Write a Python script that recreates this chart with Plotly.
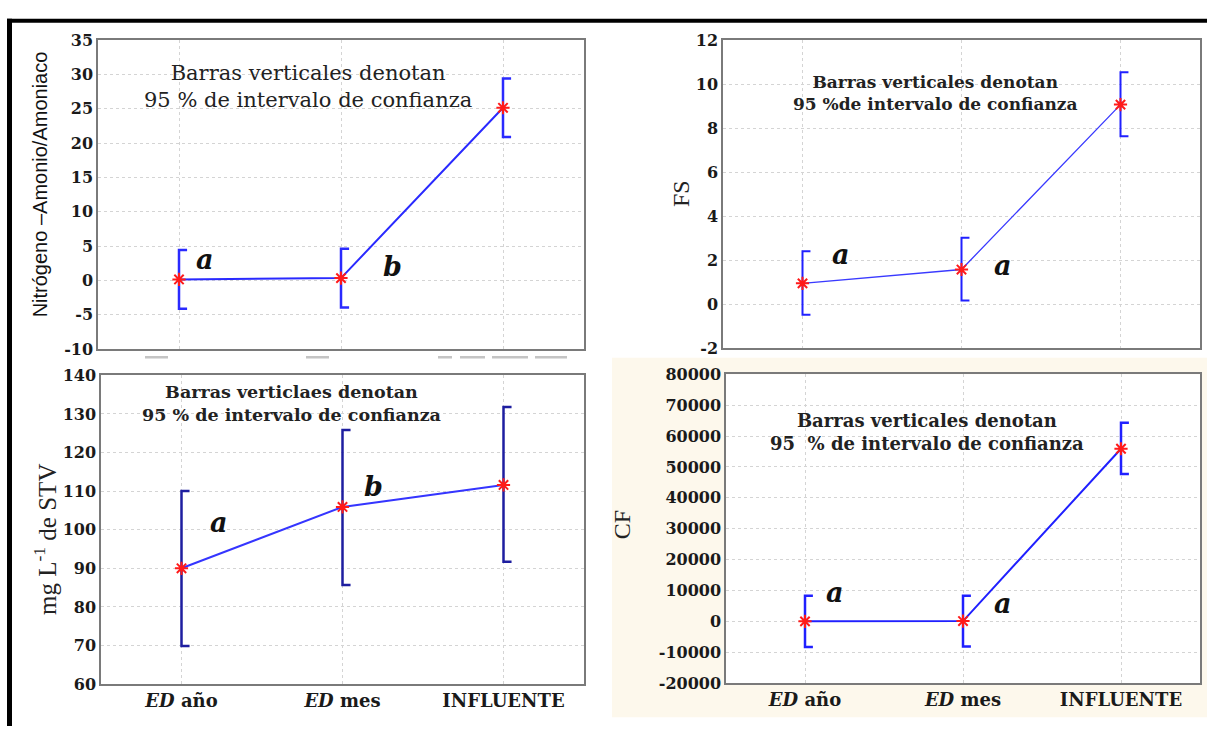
import plotly.graph_objects as go

W, H = 1207, 736

categories = ["ED año", "ED mes", "INFLUENTE"]
tick_text = ["<b><i>ED</i> año</b>", "<b><i>ED</i> mes</b>", "<b>INFLUENTE</b>"]

# Panel 1: Nitrógeno-Amonio/Amoniaco
nit_mean = [0.14, 0.33, 25.15]
nit_low = [-4.15, -3.95, 20.9]
nit_high = [4.43, 4.6, 29.4]
nit_letters = ["a", "b"]

# Panel 2: FS
fs_mean = [0.94, 1.57, 9.07]
fs_low = [-0.49, 0.16, 7.63]
fs_high = [2.4, 3.01, 10.54]
fs_letters = ["a", "a"]

# Panel 3: mg/L de STV
stv_mean = [90.0, 105.9, 111.6]
stv_low = [69.9, 85.7, 91.7]
stv_high = [110.0, 125.8, 131.8]
stv_letters = ["a", "b"]

# Panel 4: CF
cf_mean = [0, 100, 55900]
cf_low = [-8300, -8100, 47700]
cf_high = [8300, 8300, 64300]
cf_letters = ["a", "a"]


def px(x):
    return x / W


def py(y):
    return 1 - y / H


SERIF = "DejaVu Serif"

panels = [
    dict(mean=nit_mean, low=nit_low, high=nit_high, box=(98, 584, 32, 349),
         yr=(-10, 35), dt=5, line_w=2.0, line_c="#2a2aff", err_c="#2a2aff", err_w=2.5,
         xlabels=False),
    dict(mean=fs_mean, low=fs_low, high=fs_high, box=(723, 1200, 32, 348),
         yr=(-2, 12), dt=2, line_w=1.3, line_c="#3a3aff", err_c="#2020ff", err_w=2.0,
         xlabels=False),
    dict(mean=stv_mean, low=stv_low, high=stv_high, box=(101, 584, 376, 693),
         yr=(60, 140), dt=10, line_w=2.0, line_c="#3535ff", err_c="#1e1ea0", err_w=2.5,
         xlabels=True),
    dict(mean=cf_mean, low=cf_low, high=cf_high, box=(726, 1200, 375, 692),
         yr=(-20000, 80000), dt=10000, line_w=2.0, line_c="#2020ff", err_c="#2020ff", err_w=2.5,
         xlabels=True),
]

fig = go.Figure()
xi = list(range(len(categories)))
cap = 0.05

for k, p in enumerate(panels, start=1):
    xa = "x" if k == 1 else f"x{k}"
    ya = "y" if k == 1 else f"y{k}"
    # bracket-shaped error bars
    bx, by = [], []
    for i, (lo, hi) in enumerate(zip(p["low"], p["high"])):
        bx += [i + cap, i, i, i + cap, None]
        by += [hi, hi, lo, lo, None]
    fig.add_trace(go.Scatter(x=bx, y=by, mode="lines", xaxis=xa, yaxis=ya,
                             line=dict(color=p["err_c"], width=p["err_w"]),
                             showlegend=False, hoverinfo="skip"))
    fig.add_trace(go.Scatter(x=xi, y=p["mean"], mode="lines", xaxis=xa, yaxis=ya,
                             line=dict(color=p["line_c"], width=p["line_w"]),
                             showlegend=False))
    fig.add_trace(go.Scatter(x=xi, y=p["mean"], mode="markers", xaxis=xa, yaxis=ya,
                             marker=dict(symbol="asterisk-open", size=11, color="#ff1a1a",
                                         line=dict(color="#ff1a1a", width=2)),
                             showlegend=False))
    x0, x1, y0, y1 = p["box"]
    lo_r, hi_r = p["yr"]
    n = int(round((hi_r - lo_r) / p["dt"]))
    yvals = [lo_r + j * p["dt"] for j in range(n + 1)]
    ytext = [f"<b>{v:d}</b>" for v in yvals]
    axkey = "xaxis" if k == 1 else f"xaxis{k}"
    aykey = "yaxis" if k == 1 else f"yaxis{k}"
    fig.layout[axkey] = dict(
        domain=[px(x0), px(x1)], anchor=ya, range=[-0.5, 2.5],
        tickvals=xi, ticktext=tick_text, showticklabels=p["xlabels"],
        tickfont=dict(family=SERIF, size=18, color="#1a1a1a"),
        showgrid=True, gridcolor="#d4d4d4", griddash="dot", gridwidth=1,
        showline=True, mirror=True, linecolor="#7a7a7a", linewidth=1.5,
        zeroline=False, ticks="", fixedrange=True)
    fig.layout[aykey] = dict(
        domain=[py(y1), py(y0)], anchor=xa, range=[lo_r, hi_r],
        tickvals=yvals, ticktext=ytext,
        tickfont=dict(family=SERIF, size=16, color="#1a1a1a"),
        showgrid=True, gridcolor="#d4d4d4", griddash="dot", gridwidth=1,
        showline=True, mirror=True, linecolor="#7a7a7a", linewidth=1.5,
        zeroline=False, ticks="", fixedrange=True)

annotations = []

# y-axis titles
annotations.append(dict(text="Nitrógeno –Amonio/Amoniaco", x=px(40), y=py(180), textangle=-90,
                        font=dict(family="Liberation Sans", size=20, color="#111")))
annotations.append(dict(text="FS", x=px(681), y=py(190), textangle=-90,
                        font=dict(family="Liberation Serif", size=24, color="#222")))
annotations.append(dict(text="mg L<sup>-1</sup> de STV", x=px(45), y=py(545), textangle=-90,
                        font=dict(family="Liberation Serif", size=25, color="#222")))
annotations.append(dict(text="CF", x=px(622), y=py(530), textangle=-90,
                        font=dict(family="Liberation Serif", size=24, color="#222")))

# notes
annotations.append(dict(text="Barras verticales denotan<br>95 % de intervalo de confianza",
                        x=px(308), y=py(80), font=dict(family=SERIF, size=21, color="#222")))
annotations.append(dict(text="<b>Barras verticales denotan<br>95 %de intervalo de confianza</b>",
                        x=px(935), y=py(86), font=dict(family=SERIF, size=17, color="#222")))
annotations.append(dict(text="<b>Barras verticlaes denotan<br>95 % de intervalo de confianza</b>",
                        x=px(291), y=py(405), font=dict(family=SERIF, size=17.5, color="#222")))
annotations.append(dict(text="<b>Barras verticales denotan<br>95  % de intervalo de confianza</b>",
                        x=px(927), y=py(434), font=dict(family=SERIF, size=18, color="#222")))

# significance letters
letter_pos = [
    (nit_letters, [(205, 257), (392, 264)]),
    (fs_letters, [(841, 252), (1003, 263)]),
    (stv_letters, [(219, 527), (374, 490)]),
    (cf_letters, [(835, 599), (1003, 610)]),
]
for letters, poss in letter_pos:
    for t, (lx, ly) in zip(letters, poss):
        annotations.append(dict(text=f"<b><i>{t}</i></b>", x=px(lx), y=py(ly),
                                font=dict(family=SERIF, size=27, color="#111")))

for a in annotations:
    a.update(xref="paper", yref="paper", showarrow=False, xanchor="center", yanchor="middle")

shapes = [
    # cream background of bottom-right panel region
    dict(type="rect", xref="paper", yref="paper", x0=px(612), x1=1, y0=py(727), y1=py(358),
         fillcolor="#fdf8ec", line=dict(width=0), layer="below"),
    dict(type="rect", xref="paper", yref="paper", x0=px(726), x1=px(1200), y0=py(692), y1=py(375),
         fillcolor="white", line=dict(width=0), layer="below"),
    # black frame lines
    dict(type="rect", xref="paper", yref="paper", x0=px(7), x1=1, y0=py(14), y1=py(10),
         fillcolor="black", line=dict(width=0)),
    dict(type="rect", xref="paper", yref="paper", x0=px(7), x1=px(12), y0=0, y1=py(10),
         fillcolor="black", line=dict(width=0)),
]
# faint remnants of cropped labels under the first panel
for a0, a1 in [(145, 168), (306, 329), (438, 452), (460, 485), (492, 528), (535, 567)]:
    shapes.append(dict(type="line", xref="paper", yref="paper", x0=px(a0), x1=px(a1),
                       y0=py(357.5), y1=py(357.5), line=dict(color="#c4c4c4", width=2.5)))

fig.update_layout(width=W, height=H, autosize=False, margin=dict(l=0, r=0, t=0, b=0),
                  paper_bgcolor="white", plot_bgcolor="white",
                  annotations=annotations, shapes=shapes, showlegend=False)

fig.write_html("out.html", config={"responsive": False})
